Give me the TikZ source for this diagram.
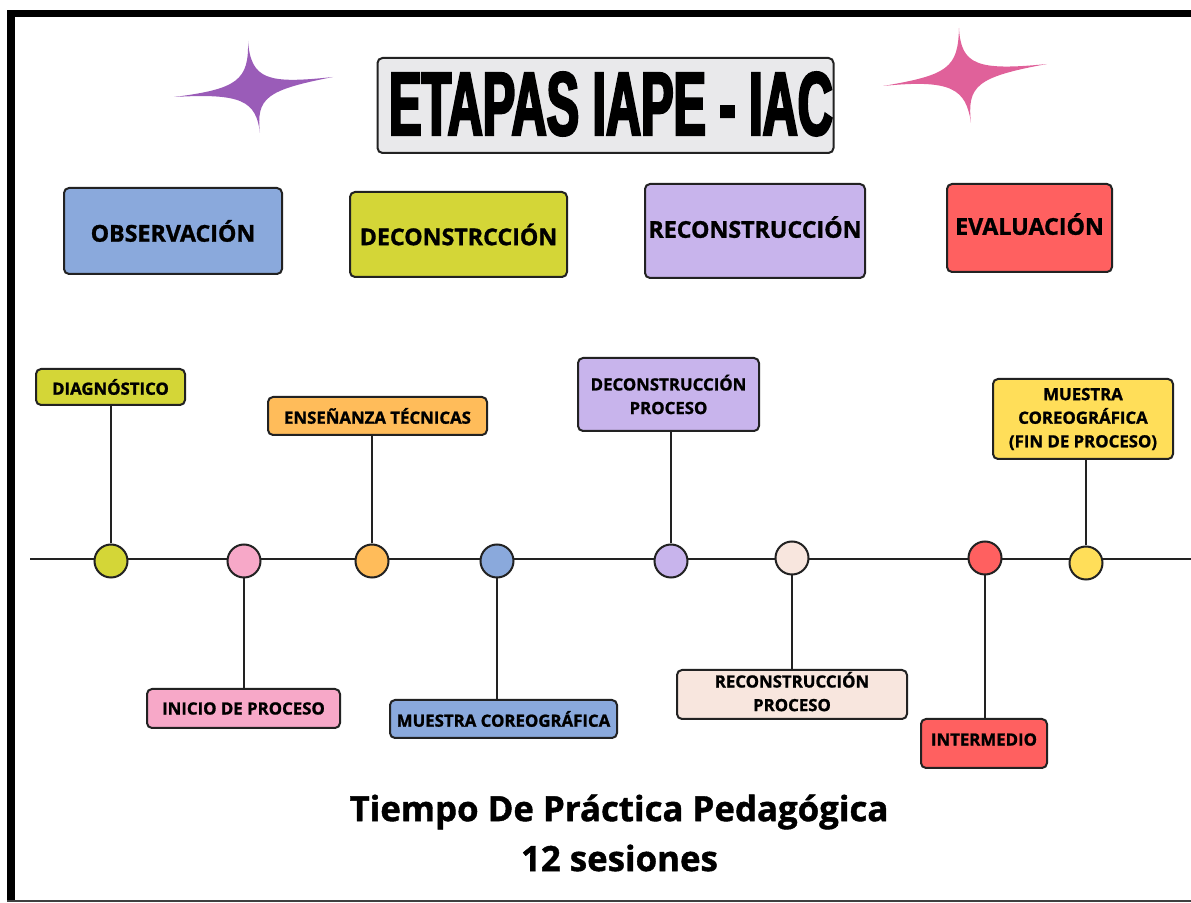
\documentclass[tikz,border=0pt]{standalone}
\usepackage{fontspec}
\setmainfont{Open Sans}[BoldFeatures={FakeBold=1.2}]
\newfontfamily\titlefont[FakeStretch=0.54,FakeBold=2.6]{Liberation Sans Bold}
\definecolor{blueC}{HTML}{8AA9DC}
\definecolor{limeC}{HTML}{D4D637}
\definecolor{lavC}{HTML}{C8B4EC}
\definecolor{redC}{HTML}{FF6060}
\definecolor{orangeC}{HTML}{FFBC5A}
\definecolor{pinkC}{HTML}{F7A8C8}
\definecolor{peachC}{HTML}{F8E6DE}
\definecolor{yellowC}{HTML}{FFDE59}
\definecolor{titleC}{HTML}{E9E9EB}
\definecolor{starP}{HTML}{9A5CB8}
\definecolor{starK}{HTML}{E0619A}
\definecolor{edgeC}{HTML}{222222}
\tikzset{
  box/.style={draw=edgeC, line width=1pt, rounded corners=2.5pt, align=center, inner sep=0pt},
  stagebox/.style={box, font=\bfseries\fontsize{11.6}{13}\selectfont},
  tagbox/.style={box, font=\bfseries\fontsize{8.4}{11.8}\selectfont},
  dot/.style={circle, draw=edgeC, line width=1pt, minimum size=16.5pt, inner sep=0pt},
  link/.style={draw=edgeC, line width=1pt},
  foottext/.style={font=\bfseries\fontsize{17.4}{20}\selectfont, inner sep=0pt},
}
\begin{document}
\begin{tikzpicture}[x=0.5pt,y=-0.5pt]
\useasboundingbox (0,0) rectangle (1191,903);
% frame
\fill[black] (7,10) rectangle (1191,17);
\fill[black] (7,10) rectangle (15,901);
\draw[black!75, line width=0.7pt] (7,901) -- (1191,901);
% stars
\fill[starP] (248,41) .. controls (251,80) and (268,84) .. (333,77)
  .. controls (266,90) and (256,98) .. (260,133)
  .. controls (256,101) and (242,93) .. (174,97)
  .. controls (238,89) and (249,80) .. (248,41) -- cycle;
\fill[starK] (959,28) .. controls (961,65) and (977,71) .. (1047,64)
  .. controls (976,77) and (967,86) .. (971,123)
  .. controls (966,89) and (952,79) .. (883,86)
  .. controls (948,75) and (958,68) .. (959,28) -- cycle;
% title
\node[box, fill=titleC, minimum width=228pt, minimum height=47.5pt] (title) at (605.5,105.5) {};
\node[font=\titlefont\fontsize{45}{45}\selectfont, inner sep=0pt] (titletext) at (611,104) {ETAPAS IAPE - IAC};
% stages
\node[stagebox, fill=blueC, minimum width=109pt, minimum height=43pt] (sA) at (173,231) {OBSERVACIÓN};
\node[stagebox, fill=limeC, minimum width=108.5pt, minimum height=42.5pt] (sB) at (458.5,234.5) {DECONSTRCCIÓN};
\node[stagebox, fill=lavC, minimum width=110pt, minimum height=47pt, text depth=4pt] (sC) at (755,231) {RECONSTRUCCIÓN};
\node[stagebox, fill=redC, minimum width=82.5pt, minimum height=44pt, text depth=4pt] (sD) at (1029.5,228) {EVALUACIÓN};
% timeline
\coordinate (tl0) at (30,559);
\coordinate (tl1) at (1191,559);
\draw[link] (tl0) -- (tl1);
\node[dot, fill=limeC] (c1) at (111,561) {};
\node[dot, fill=pinkC] (c2) at (244,561) {};
\node[dot, fill=orangeC] (c3) at (372,561) {};
\node[dot, fill=blueC] (c4) at (497,561) {};
\node[dot, fill=lavC] (c5) at (671,561) {};
\node[dot, fill=peachC] (c6) at (792,558) {};
\node[dot, fill=redC] (c7) at (985,558) {};
\node[dot, fill=yellowC] (c8) at (1086,563) {};
% tags above
\node[tagbox, fill=limeC, minimum width=74.5pt, minimum height=18pt] (dA) at (110.5,387) {DIAGNÓSTICO};
\node[tagbox, fill=orangeC, minimum width=109.5pt, minimum height=19pt] (dC) at (377.5,416) {ENSEÑANZA TÉCNICAS};
\node[tagbox, fill=lavC, minimum width=90.5pt, minimum height=36.5pt] (dE) at (668.5,394.5) {DECONSTRUCCIÓN\\PROCESO};
\node[tagbox, fill=yellowC, minimum width=90pt, minimum height=40pt] (dH) at (1083,419) {MUESTRA\\COREOGRÁFICA\\(FIN DE PROCESO)};
% tags below
\node[tagbox, fill=pinkC, minimum width=96.5pt, minimum height=19.5pt] (dB) at (243.5,708.5) {INICIO DE PROCESO};
\node[tagbox, fill=blueC, minimum width=113.5pt, minimum height=19pt] (dD) at (503.5,719) {MUESTRA COREOGRÁFICA};
\node[tagbox, fill=peachC, minimum width=115pt, minimum height=24.5pt, text depth=3pt] (dF) at (792,694.5) {RECONSTRUCCIÓN\\PROCESO};
\node[tagbox, fill=redC, minimum width=63pt, minimum height=24.5pt, text depth=4pt] (dG) at (984,743.5) {INTERMEDIO};
% connectors
\draw[link] (c1.north) -- (c1.north |- dA.south);
\draw[link] (c3.north) -- (c3.north |- dC.south);
\draw[link] (c5.north) -- (c5.north |- dE.south);
\draw[link] (c8.north) -- (c8.north |- dH.south);
\draw[link] (c2.south) -- (c2.south |- dB.north);
\draw[link] (c4.south) -- (c4.south |- dD.north);
\draw[link] (c6.south) -- (c6.south |- dF.north);
\draw[link] (c7.south) -- (c7.south |- dG.north);
% footer
\node[foottext] (foot1) at (619,812) {Tiempo De Práctica Pedagógica};
\node[foottext] (foot2) at (619.5,858) {12 sesiones};
\end{tikzpicture}
\end{document}
